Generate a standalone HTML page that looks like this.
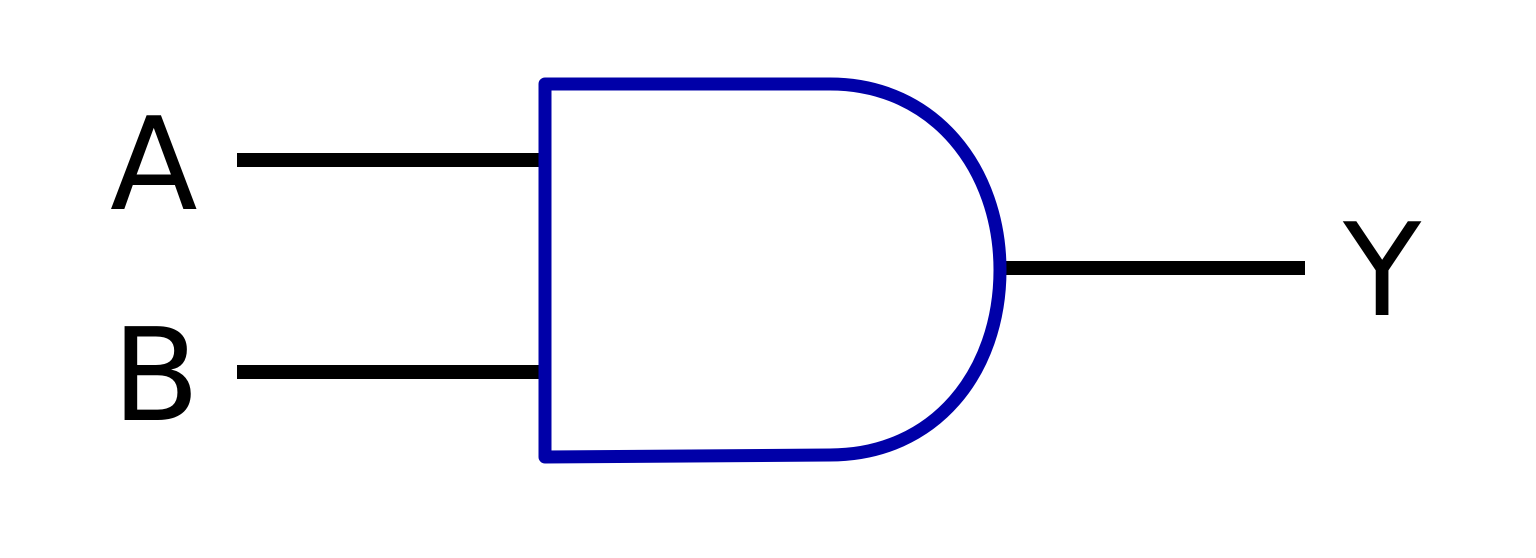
<!DOCTYPE html>
<html><head><style>html,body{margin:0;padding:0;background:#fff}svg{display:block}</style></head>
<body>
<svg width="1536" height="558" viewBox="0 0 1536 558" xmlns="http://www.w3.org/2000/svg">
<rect width="1536" height="558" fill="#fff"/>
<g stroke="#000" stroke-width="14">
<line x1="237" y1="160" x2="545" y2="160"/>
<line x1="237" y1="372" x2="545" y2="372"/>
<line x1="1000" y1="268" x2="1305" y2="268"/>
</g>
<path d="M545,84 L830,84 C935,84 1000,170 1000,270 C1000,372 935,455 830,455 L545,457 Z" fill="none" stroke="#0000a8" stroke-width="13" stroke-linejoin="round"/>
<g font-family="'DejaVu Sans','Liberation Sans',sans-serif" font-size="128" fill="#000">
<text x="110" y="209">A</text>
<text x="112" y="420">B</text>
<text x="1343" y="315">Y</text>
</g>
</svg>
</body></html>
